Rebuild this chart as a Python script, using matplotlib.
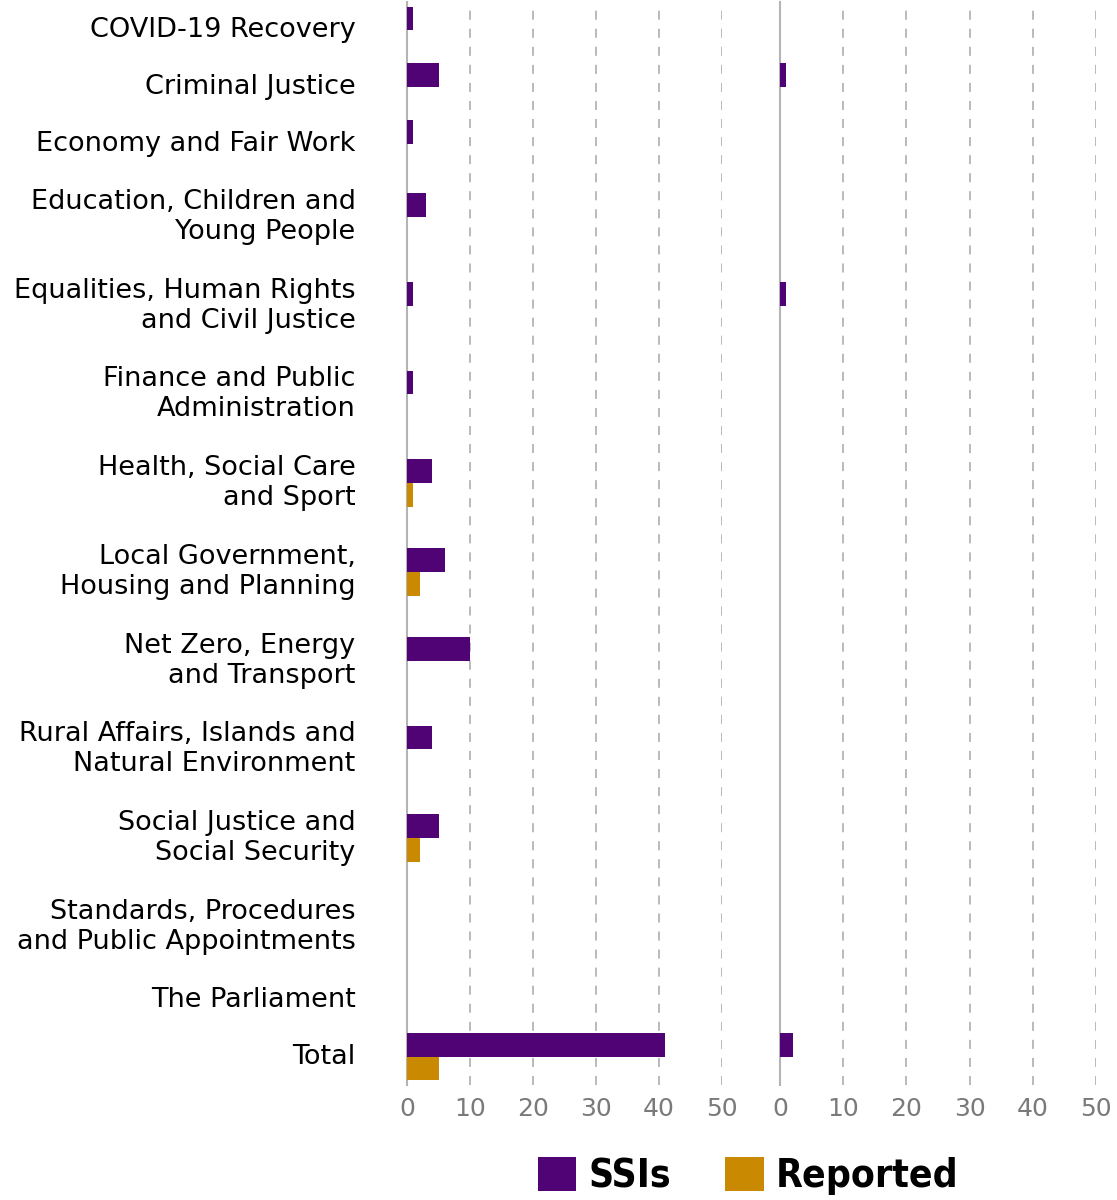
import matplotlib
matplotlib.use("Agg")
import matplotlib.pyplot as plt
from matplotlib.patches import Patch
import numpy as np

# data
categories = [
    "COVID-19 Recovery",
    "Criminal Justice",
    "Economy and Fair Work",
    "Education, Children and\nYoung People",
    "Equalities, Human Rights\nand Civil Justice",
    "Finance and Public\nAdministration",
    "Health, Social Care\nand Sport",
    "Local Government,\nHousing and Planning",
    "Net Zero, Energy\nand Transport",
    "Rural Affairs, Islands and\nNatural Environment",
    "Social Justice and\nSocial Security",
    "Standards, Procedures\nand Public Appointments",
    "The Parliament",
    "Total",
]
left_ssis = [1, 5, 1, 3, 1, 1, 4, 6, 10, 4, 5, 0, 0, 41]
left_reported = [0, 0, 0, 0, 0, 0, 1, 2, 0, 0, 2, 0, 0, 5]
right_ssis = [0, 1, 0, 0, 1, 0, 0, 0, 0, 0, 0, 0, 0, 2]
right_reported = [0] * 14
xticks = [0, 10, 20, 30, 40, 50]

PURPLE = "#4f0374"
GOLD = "#c98900"
AXIS = "#b4b4b4"
TICK = "#7a7a7a"

plt.rcParams['font.family'] = ['DejaVu Sans']

# row heights depend on the number of label lines
heights = np.array([1 + 0.56 * (c.count("\n")) for c in categories])
centers = np.cumsum(heights) - heights / 2
bar_h = 0.42

fig = plt.figure(figsize=(11.17, 12), dpi=100)
axL = fig.add_axes([407 / 1117, 1 - 1085 / 1200, 315 / 1117, 1083 / 1200])
axR = fig.add_axes([780 / 1117, 1 - 1085 / 1200, 316 / 1117, 1083 / 1200])

for ax, ssis, rep in [(axL, left_ssis, left_reported), (axR, right_ssis, right_reported)]:
    ax.barh(centers - bar_h / 2, ssis, height=bar_h, color=PURPLE, zorder=3)
    ax.barh(centers + bar_h / 2, rep, height=bar_h, color=GOLD, zorder=3)
    ax.set_xlim(0, 50)
    ax.set_ylim(heights.sum(), 0)
    ax.set_xticks(xticks)
    ax.grid(axis="x", color=AXIS, linestyle=(0, (5, 5)), linewidth=1.3, zorder=0)
    for s in ["top", "right", "bottom"]:
        ax.spines[s].set_visible(False)
    ax.spines["left"].set_color(AXIS)
    ax.spines["left"].set_linewidth(1.5)
    ax.tick_params(axis="x", length=0, pad=9, labelsize=18, labelcolor=TICK)
    ax.tick_params(axis="y", length=0)

axL.set_yticks(centers)
axL.set_yticklabels(categories, fontsize=19.5, color="black", linespacing=1.2,
                    va="center")
axL.tick_params(axis="y", pad=37)
axR.set_yticks([])

handles = [Patch(facecolor=PURPLE, label="SSIs"), Patch(facecolor=GOLD, label="Reported")]
fig.legend(handles=handles, loc="center", bbox_to_anchor=(748 / 1117, 1 - 1176 / 1200),
           ncol=2, frameon=False, handlelength=1.0, handleheight=1.0,
           handletextpad=0.3, columnspacing=1.4,
           prop={"family": "DejaVu Sans", "stretch": "condensed", "weight": "bold", "size": 28})

fig.savefig("out.png", dpi=100)
